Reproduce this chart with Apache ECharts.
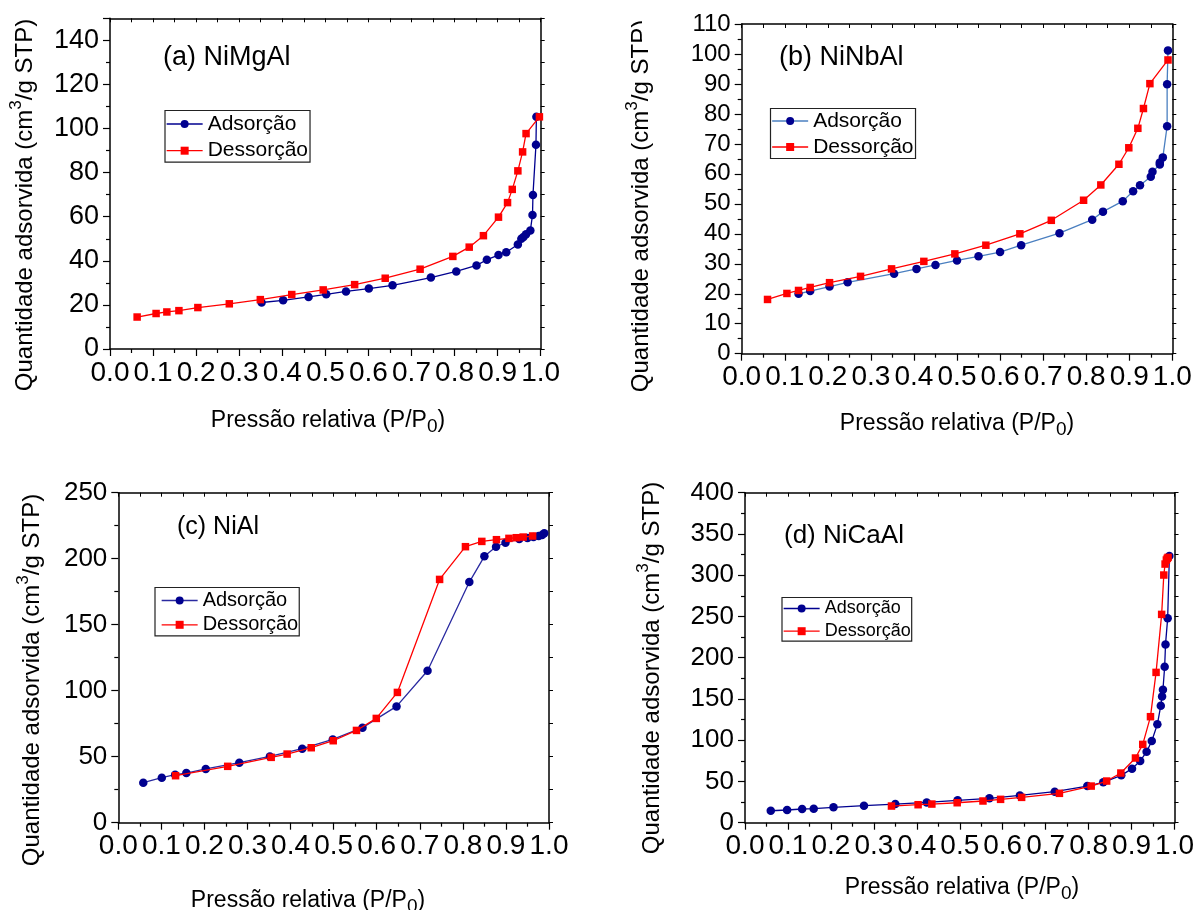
<!DOCTYPE html>
<html>
<head>
<meta charset="utf-8">
<script src="https://cdn.jsdelivr.net/npm/echarts@6/dist/echarts.min.js"></script>
<style>
  html, body { margin: 0; padding: 0; background: #fff; }
  #chart { width: 1197px; height: 910px; }
</style>
</head>
<body>
<div id="chart"></div>
<script>
// N2 adsorption / desorption isotherms of four Ni catalysts

// (a) NiMgAl
const pA_ads = [0.352, 0.402, 0.461, 0.502, 0.548, 0.601, 0.656, 0.745, 0.804, 0.851, 0.875, 0.902, 0.920, 0.947, 0.955, 0.960, 0.966, 0.976, 0.981, 0.982, 0.989, 0.990];
const qA_ads = [21.1, 22.1, 23.6, 24.8, 26.1, 27.4, 28.9, 32.4, 35.2, 37.9, 40.5, 42.6, 43.9, 47.4, 50.0, 50.8, 52.0, 53.8, 60.8, 69.8, 92.6, 105.3];
const pA_des = [0.997, 0.966, 0.958, 0.947, 0.934, 0.923, 0.902, 0.867, 0.834, 0.796, 0.720, 0.639, 0.568, 0.495, 0.422, 0.349, 0.277, 0.204, 0.160, 0.132, 0.107, 0.063];
const qA_des = [105.3, 97.7, 89.4, 80.8, 72.4, 66.4, 59.8, 51.4, 46.2, 42.0, 36.2, 32.1, 29.2, 26.8, 24.7, 22.4, 20.5, 18.8, 17.4, 16.8, 16.1, 14.5];

// (b) NiNbAl
const pB_ads = [0.132, 0.159, 0.204, 0.246, 0.354, 0.406, 0.450, 0.500, 0.550, 0.600, 0.649, 0.738, 0.814, 0.839, 0.885, 0.909, 0.925, 0.950, 0.954, 0.971, 0.971, 0.978, 0.988, 0.988, 0.990];
const qB_ads = [20.0, 20.9, 22.4, 23.8, 26.7, 28.3, 29.6, 31.1, 32.5, 33.9, 36.2, 40.2, 44.7, 47.4, 50.9, 54.2, 56.2, 59.0, 60.7, 63.1, 63.8, 65.5, 75.9, 89.9, 101.2];
const pB_des = [0.990, 0.948, 0.933, 0.920, 0.899, 0.876, 0.834, 0.794, 0.719, 0.646, 0.567, 0.495, 0.423, 0.348, 0.276, 0.204, 0.159, 0.132, 0.105, 0.060];
const qB_des = [98.0, 90.1, 81.8, 75.2, 68.7, 63.2, 56.3, 51.2, 44.5, 40.0, 36.2, 33.3, 30.8, 28.3, 25.8, 23.7, 22.1, 21.1, 20.1, 18.1];

// (c) NiAl
const pC_ads = [0.058, 0.101, 0.132, 0.158, 0.203, 0.281, 0.352, 0.427, 0.498, 0.567, 0.646, 0.718, 0.815, 0.850, 0.877, 0.899, 0.931, 0.950, 0.964, 0.976, 0.984, 0.989];
const qC_ads = [30.3, 34.1, 36.4, 37.6, 40.7, 45.5, 50.2, 56.1, 63.1, 72.0, 88.1, 115.1, 182.3, 201.8, 209.1, 212.1, 214.9, 215.6, 216.4, 217.2, 217.9, 219.2];
const pC_des = [0.962, 0.940, 0.924, 0.907, 0.878, 0.844, 0.806, 0.746, 0.648, 0.599, 0.553, 0.499, 0.448, 0.392, 0.355, 0.254, 0.133];
const qC_des = [217.2, 216.4, 215.9, 215.4, 214.4, 213.1, 209.1, 184.3, 98.7, 79.0, 69.9, 62.1, 56.8, 52.0, 49.5, 42.7, 35.6];

// (d) NiCaAl
const pD_ads = [0.060, 0.098, 0.133, 0.160, 0.206, 0.277, 0.350, 0.423, 0.495, 0.569, 0.640, 0.721, 0.797, 0.834, 0.876, 0.901, 0.920, 0.935, 0.947, 0.960, 0.968, 0.971, 0.973, 0.977, 0.979, 0.984, 0.988];
const qD_ads = [14.5, 15.4, 16.6, 17.0, 18.6, 20.6, 22.6, 24.6, 27.1, 29.5, 33.1, 37.6, 44.4, 48.9, 57.4, 65.5, 74.7, 86.1, 99.0, 119.2, 141.8, 153.1, 161.2, 189.1, 216.1, 247.7, 323.2];
const pD_des = [0.985, 0.983, 0.981, 0.978, 0.975, 0.970, 0.957, 0.944, 0.926, 0.909, 0.875, 0.842, 0.806, 0.732, 0.644, 0.595, 0.554, 0.494, 0.435, 0.403, 0.341];
const qD_des = [321.6, 320.4, 318.4, 313.5, 300.2, 252.5, 182.2, 128.5, 94.9, 78.4, 60.2, 50.5, 44.4, 35.6, 30.7, 28.3, 26.3, 24.2, 22.6, 21.8, 20.2];

// Panel labels and y-axis scales
const panelNames = ['(a) NiMgAl', '(b) NiNbAl', '(c) NiAl', '(d) NiCaAl'];
const yMax = [150, 110, 250, 400];
const yStep = [20, 10, 50, 50];
const seriesNames = ['Adsorção', 'Dessorção'];
const xTitle = 'Pressão relativa (P/P';
const yTitle = 'Quantidade adsorvida (cm';

const FONT = '"Liberation Sans", Arial, sans-serif';
const NAVY = '#00008f';
const RED = '#ff0000';

const panels = [
  { grid: { left: 110, top: 18.3, width: 430.7, height: 330.7 }, pa: pA_ads, qa: qA_ads, pd: pA_des, qd: qA_des,
    adsLine: NAVY, yFont: 27, title: [163, 57.5, 27],
    legend: { left: 165, top: 110.5, font: 21, gap: 5.7, pad: [3, 2, 1, 1] },
    xt: [328, 421], yt: [25, 205] },
  { grid: { left: 741.7, top: 24, width: 430.6, height: 329.7 }, pa: pB_ads, qa: qB_ads, pd: pB_des, qd: qB_des,
    adsLine: '#4a7fc0', yFont: 24, title: [779, 57.5, 27],
    legend: { left: 770.5, top: 108.5, font: 21, gap: 5, pad: [2, 2, 1, 1] },
    xt: [957, 424], yt: [641, 206] },
  { grid: { left: 118.3, top: 492.7, width: 430.7, height: 330 }, pa: pC_ads, qa: qC_ads, pd: pC_des, qd: qC_des,
    adsLine: '#2a2aa0', yFont: 26, title: [177, 527, 25],
    legend: { left: 155, top: 587.5, font: 20, gap: 4.3, pad: [3, 1, 1, 6] },
    xt: [308, 900.5], yt: [32, 680] },
  { grid: { left: 745, top: 492.7, width: 430.7, height: 330 }, pa: pD_ads, qa: qD_ads, pd: pD_des, qd: qD_des,
    adsLine: NAVY, yFont: 26, title: [784, 536, 26],
    legend: { left: 782, top: 597.5, font: 18, gap: 4.7, pad: [2, 1, 1, 1] },
    xt: [962, 888], yt: [652, 668] }
];

const pairs = (xs, ys) => xs.map((x, i) => [x, ys[i]]);

const grids = [], xAxes = [], yAxes = [], series = [], legends = [], graphics = [];

panels.forEach((pn, i) => {
  grids.push(Object.assign({ containLabel: false }, pn.grid));

  // bottom axis with labels, top axis as frame with inward ticks
  xAxes.push({
    type: 'value', gridIndex: i, position: 'bottom', min: 0, max: 1, interval: 0.1,
    axisLine: { show: true, onZero: false, lineStyle: { color: '#000', width: 1.5 } },
    axisTick: { show: true, inside: false, length: 7, lineStyle: { color: '#000', width: 1.2 } },
    minorTick: { show: true, splitNumber: 2, length: 4, lineStyle: { color: '#000', width: 1.2 } },
    axisLabel: { show: true, fontSize: 28, fontFamily: FONT, color: '#000', margin: 10,
      formatter: v => v.toFixed(1) },
    splitLine: { show: false }, minorSplitLine: { show: false }
  });
  xAxes.push({
    type: 'value', gridIndex: i, position: 'top', min: 0, max: 1, interval: 0.1,
    axisLine: { show: true, onZero: false, lineStyle: { color: '#000', width: 1.5 } },
    axisTick: { show: true, inside: true, length: 4, lineStyle: { color: '#000', width: 1 } },
    minorTick: { show: true, splitNumber: 2, length: 4, lineStyle: { color: '#000', width: 1 } },
    axisLabel: { show: false }, splitLine: { show: false }
  });

  yAxes.push({
    type: 'value', gridIndex: i, position: 'left', min: 0, max: yMax[i], interval: yStep[i],
    axisLine: { show: true, onZero: false, lineStyle: { color: '#000', width: 1.5 } },
    axisTick: { show: true, inside: false, length: 7, lineStyle: { color: '#000', width: 1.2 } },
    minorTick: { show: true, splitNumber: 2, length: 4, lineStyle: { color: '#000', width: 1.2 } },
    axisLabel: { show: true, fontSize: pn.yFont, fontFamily: FONT, color: '#000', margin: 11,
      showMaxLabel: yMax[i] % yStep[i] === 0 },
    splitLine: { show: false }, minorSplitLine: { show: false }
  });
  yAxes.push({
    type: 'value', gridIndex: i, position: 'right', min: 0, max: yMax[i], interval: yStep[i],
    axisLine: { show: true, onZero: false, lineStyle: { color: '#000', width: 1.5 } },
    axisTick: { show: true, inside: false, length: 4, lineStyle: { color: '#000', width: 1 } },
    minorTick: { show: true, splitNumber: 2, length: 4, lineStyle: { color: '#000', width: 1 } },
    axisLabel: { show: false }, splitLine: { show: false }
  });

  series.push({
    name: seriesNames[0], type: 'line', xAxisIndex: 2 * i, yAxisIndex: 2 * i,
    data: pairs(pn.pa, pn.qa), symbol: 'circle', symbolSize: 8.5,
    itemStyle: { color: NAVY }, lineStyle: { color: pn.adsLine, width: 1.3 },
    z: 3, animation: false
  });
  series.push({
    name: seriesNames[1], type: 'line', xAxisIndex: 2 * i, yAxisIndex: 2 * i,
    data: pairs(pn.pd, pn.qd), symbol: 'rect', symbolSize: 7.5,
    itemStyle: { color: RED }, lineStyle: { color: RED, width: 1.3 },
    z: 4, animation: false
  });

  legends.push({
    orient: 'vertical', left: pn.legend.left, top: pn.legend.top,
    itemWidth: 36, itemHeight: 10, itemGap: pn.legend.gap, padding: pn.legend.pad,
    borderColor: '#222', borderWidth: 1.2, backgroundColor: '#fff', selectedMode: false,
    textStyle: { fontSize: pn.legend.font, fontFamily: FONT, color: '#000', padding: [0, 0, 0, 0] },
    data: [
      { name: seriesNames[0], itemStyle: { color: NAVY }, lineStyle: { color: pn.adsLine, width: 1.3 } },
      { name: seriesNames[1], itemStyle: { color: RED }, lineStyle: { color: RED, width: 1.3 } }
    ]
  });

  // panel label inside the frame
  graphics.push({
    type: 'text', x: pn.title[0], y: pn.title[1], z: 20,
    style: { text: panelNames[i], fill: '#000', fontSize: pn.title[2], fontFamily: FONT,
      align: 'left', verticalAlign: 'middle' }
  });

  // x-axis title with subscript 0
  graphics.push({
    type: 'text', x: pn.xt[0], y: pn.xt[1], z: 20,
    style: {
      text: '{b|' + xTitle + '}{s|0}{b|)}', align: 'center', verticalAlign: 'middle',
      rich: {
        b: { fontSize: 23, fontFamily: FONT, fill: '#000', lineHeight: 23, verticalAlign: 'top' },
        s: { fontSize: 19, fontFamily: FONT, fill: '#000', lineHeight: 19, verticalAlign: 'top', padding: [8, 0, 0, 0] }
      }
    }
  });

  // y-axis title with superscript 3, reading bottom to top
  graphics.push({
    type: 'text', x: pn.yt[0], y: pn.yt[1], rotation: Math.PI / 2, z: 20,
    style: {
      text: '{b|' + yTitle + '}{p|3}{b|/g STP)}', align: 'center', verticalAlign: 'middle',
      rich: {
        b: { fontSize: 24, fontFamily: FONT, fill: '#000', lineHeight: 24, verticalAlign: 'bottom' },
        p: { fontSize: 17, fontFamily: FONT, fill: '#000', lineHeight: 17, verticalAlign: 'bottom', padding: [0, 0, 12, 0] }
      }
    }
  });
});

// the (b) panel is cropped along its upper left edge
graphics.push({ type: 'rect', z: 30, shape: { x: 642, y: 0, width: 46, height: 46 }, style: { fill: '#fff' } });

const chart = echarts.init(document.getElementById('chart'), null, { renderer: 'canvas' });
chart.setOption({
  animation: false,
  backgroundColor: '#fff',
  grid: grids,
  xAxis: xAxes,
  yAxis: yAxes,
  legend: legends,
  series: series,
  graphic: graphics
});
</script>
</body>
</html>
